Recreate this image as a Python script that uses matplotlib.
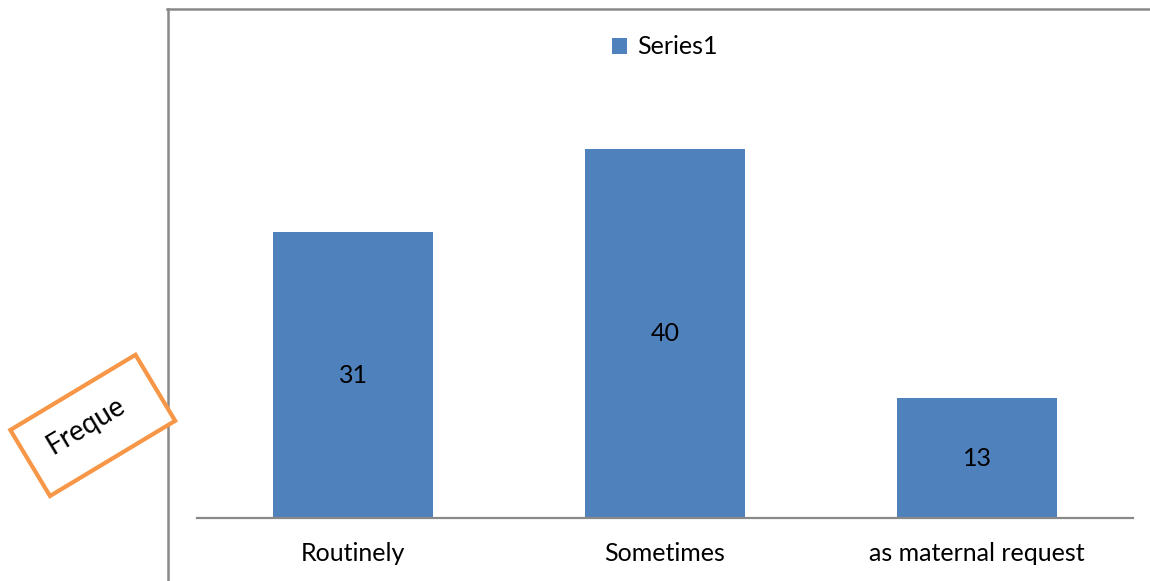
import matplotlib
matplotlib.use('Agg')
import matplotlib.pyplot as plt
from matplotlib.patches import Rectangle
from matplotlib.lines import Line2D
from matplotlib.transforms import IdentityTransform

categories = ['Routinely', 'Sometimes', 'as maternal request']
values = [31, 40, 13]
series_name = 'Series1'

plt.rcParams['font.family'] = ['Lato', 'DejaVu Sans']

W, H = 1150, 581
fig = plt.figure(figsize=(W / 100, H / 100), dpi=100)

# main plot area (pixel coords from the reference)
ax = fig.add_axes([197 / W, (H - 518) / H, (1133 - 197) / W, (518 - 9) / H])
bars = ax.bar(range(len(categories)), values, width=0.513, color='#4F81BD',
              label=series_name, zorder=2)
ax.bar_label(bars, label_type='center', fontsize=18)
ax.set_xlim(-0.5, 2.5)
ax.set_ylim(0, 509 / 9.225)
ax.set_xticks(range(len(categories)))
ax.set_xticklabels(categories, fontsize=18)
ax.tick_params(axis='x', length=0, pad=17)
ax.set_yticks([])
for s in ['top', 'right', 'left']:
    ax.spines[s].set_visible(False)
ax.spines['bottom'].set_color('#898989')
ax.spines['bottom'].set_linewidth(1.6)

ax.legend(loc='center', bbox_to_anchor=(0.5, (509 - 38) / 509), frameon=False,
          fontsize=18, handlelength=0.6, handleheight=0.6, handletextpad=0.4)

# outer frame lines (left and top)
fig.add_artist(Line2D([168 / W, 168 / W], [0, (H - 9) / H], color='#898989', lw=1.8))
fig.add_artist(Line2D([167 / W, 1], [(H - 9) / H, (H - 9) / H], color='#898989', lw=1.8))

# rotated orange box with text
box = Rectangle((50, H - 496), 146, 77, angle=31, transform=IdentityTransform(),
                facecolor='white', edgecolor='#F79646', lw=3, zorder=5)
fig.add_artist(box)
fig.text(86 / W, (H - 426) / H, 'Freque', rotation=31, ha='center', va='center',
         fontsize=20, zorder=6)

fig.savefig('out.png', dpi=100)
